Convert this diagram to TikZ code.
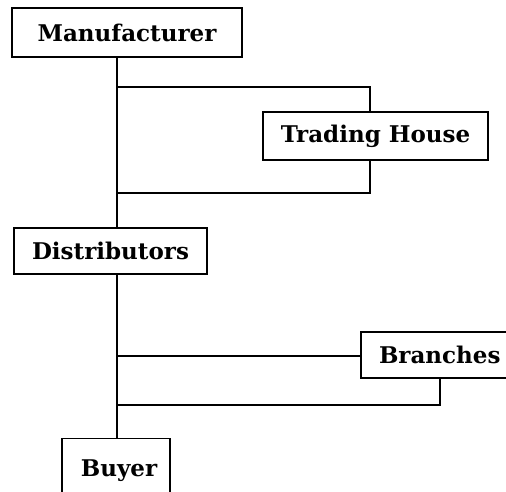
\documentclass[tikz,border=0pt]{standalone}
\usepackage{fontspec}
\setmainfont{DejaVu Serif}
\begin{document}
\begin{tikzpicture}[x=1pt,y=-1pt,
  org/.style={draw, line width=1.3pt, inner sep=0pt, font=\fontsize{23}{26}\selectfont\bfseries},
  link/.style={line width=1.9pt}]
\useasboundingbox (0,0) rectangle (506,491);
\clip (0,0) rectangle (506,491);
% organisation boxes
\node[org, minimum width=230, minimum height=49] (man) at (127,32.5) {Manufacturer};
\node[org, minimum width=225, minimum height=48] (trade) at (375.5,136) {Trading House};
\node[org, minimum width=193, minimum height=46] (dist) at (110.5,251) {Distributors};
\node[org, minimum width=160, minimum height=46, text width=124, align=left] (branch) at (441,355) {Branches};
\node[org, minimum width=108, minimum height=64, anchor=north] (buyer) at (116,438) {\hspace{6pt}\raisebox{5pt}{Buyer}};
% main channel and its side routes
\coordinate (trunk) at (117,0);
\coordinate (th) at (370,0);
\coordinate (br) at (440,0);
\coordinate (a1) at (117,87);
\coordinate (a2) at (117,193);
\coordinate (b1) at (117,356);
\coordinate (b2) at (117,405);
\draw[link] (man.south -| trunk) -- (dist.north -| trunk);
\draw[link] (dist.south -| trunk) -- (buyer.north -| trunk);
\draw[link] (a1) -- (a1 -| th) -- (trade.north -| th);
\draw[link] (trade.south -| th) -- (a2 -| th) -- (a2);
\draw[link] (b1) -- (branch.west |- b1);
\draw[link] (branch.south -| br) -- (b2 -| br) -- (b2);
\end{tikzpicture}
\end{document}
